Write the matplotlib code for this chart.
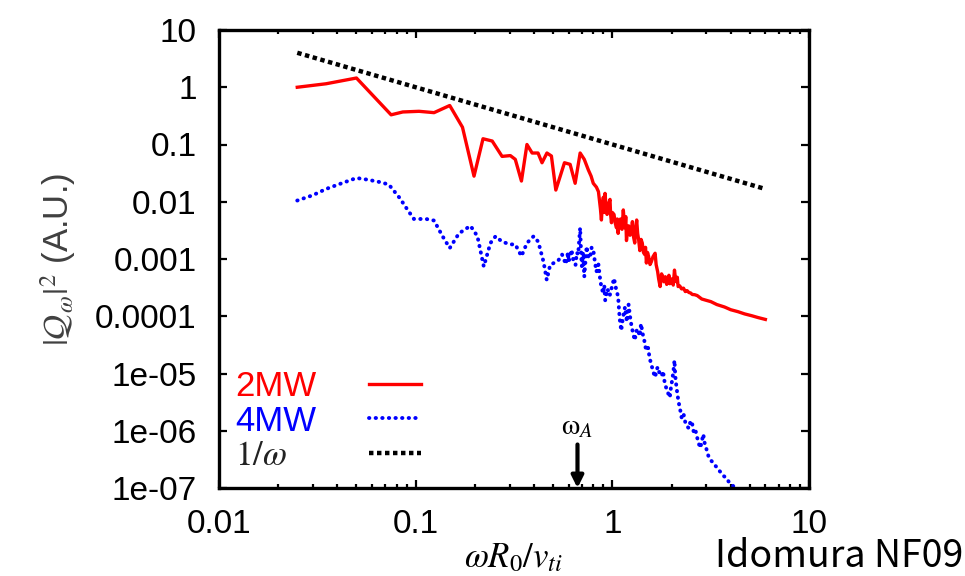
import numpy as np
import matplotlib
matplotlib.use('Agg')
import matplotlib.pyplot as plt
from matplotlib.ticker import LogLocator, NullFormatter

plt.rcParams['font.family'] = ['Liberation Sans', 'DejaVu Sans']
plt.rcParams['mathtext.fontset'] = 'stix'

# 2MW spectrum
x_2mw = [0.025, 0.035, 0.05, 0.075, 0.086, 0.104, 0.124, 0.149, 0.173, 0.198,
         0.220, 0.245, 0.275, 0.303, 0.321, 0.345, 0.368, 0.391, 0.419, 0.439,
         0.465, 0.49, 0.516, 0.571, 0.61, 0.647, 0.686, 0.72, 0.755, 0.78,
         0.80, 0.83, 0.85, 0.87, 0.88, 0.89, 0.90, 0.91, 0.918, 0.93,
         0.94, 0.955, 0.973, 0.98, 0.99, 1.00, 1.02, 1.035, 1.05, 1.06,
         1.07, 1.085, 1.10, 1.12, 1.137, 1.15, 1.16, 1.17, 1.18, 1.195,
         1.21, 1.23, 1.25, 1.265, 1.28, 1.30, 1.315, 1.33, 1.345, 1.36,
         1.38, 1.40, 1.42, 1.44, 1.46, 1.475, 1.49, 1.51, 1.53, 1.555,
         1.58, 1.61, 1.65, 1.67, 1.70, 1.72, 1.75, 1.78, 1.80, 1.83,
         1.86, 1.89, 1.91, 1.94, 1.96, 1.99, 2.01, 2.04, 2.07, 2.10,
         2.12, 2.14, 2.16, 2.2, 2.25, 2.3, 2.35, 2.4, 2.45, 2.5,
         2.55, 2.62, 2.7, 2.85, 3.0, 3.17, 3.4, 3.72, 4.0, 4.36,
         4.7, 5.12, 5.5, 6.0]
y_2mw = [1.0, 1.15, 1.45, 0.33, 0.37, 0.38, 0.36, 0.48, 0.2, 0.028,
         0.126, 0.115, 0.062, 0.064, 0.055, 0.023, 0.10, 0.071, 0.071, 0.048,
         0.071, 0.063, 0.016, 0.048, 0.045, 0.021, 0.071, 0.055, 0.036, 0.028,
         0.021, 0.018, 0.015, 0.0075, 0.0048, 0.009, 0.012, 0.0065, 0.014, 0.008,
         0.006, 0.009, 0.011, 0.006, 0.0043, 0.0065, 0.006, 0.0042, 0.0035, 0.005,
         0.0028, 0.0045, 0.005, 0.0033, 0.0072, 0.0045, 0.0035, 0.0055, 0.0021, 0.0032,
         0.0038, 0.0026, 0.0032, 0.0045, 0.0025, 0.0019, 0.0034, 0.0048, 0.0028, 0.0022,
         0.0014, 0.0022, 0.0019, 0.0013, 0.0012, 0.0016, 0.00085, 0.0013, 0.0011, 0.0008,
         0.0009, 0.0011, 0.00126, 0.0008, 0.0006, 0.00045, 0.00033, 0.00055, 0.0005, 0.0004,
         0.00049, 0.00036, 0.0004, 0.00052, 0.00037, 0.00043, 0.00045, 0.00035, 0.00064, 0.00042,
         0.0004, 0.00048, 0.00033, 0.00034, 0.0003, 0.00031, 0.00027, 0.00028, 0.00026, 0.000255,
         0.00024, 0.000238, 0.00023, 0.0002, 0.00019, 0.00018, 0.00016, 0.000145, 0.00013, 0.00012,
         0.00011, 0.000102, 0.000095, 0.000088]

# 4MW spectrum
x_4mw = [0.025, 0.030, 0.035, 0.042, 0.050, 0.057, 0.066, 0.073, 0.083, 0.091,
         0.098, 0.113, 0.124, 0.137, 0.149, 0.166, 0.19, 0.206, 0.222, 0.24,
         0.255, 0.275, 0.303, 0.321, 0.345, 0.368, 0.398, 0.42, 0.447, 0.464,
         0.483, 0.53, 0.555, 0.58, 0.595, 0.60, 0.62, 0.635, 0.65, 0.66,
         0.67, 0.686, 0.695, 0.70, 0.71, 0.72, 0.73, 0.74, 0.755, 0.77,
         0.785, 0.80, 0.815, 0.83, 0.85, 0.87, 0.885, 0.90, 0.91, 0.92,
         0.945, 0.97, 1.0, 1.02, 1.045, 1.07, 1.09, 1.11, 1.13, 1.16,
         1.185, 1.21, 1.23, 1.25, 1.275, 1.30, 1.325, 1.35, 1.375, 1.40,
         1.425, 1.45, 1.47, 1.49, 1.52, 1.55, 1.575, 1.60, 1.625, 1.65,
         1.675, 1.70, 1.74, 1.78, 1.81, 1.85, 1.9, 1.96, 1.99, 2.02,
         2.05, 2.07, 2.09, 2.12, 2.15, 2.18, 2.22, 2.25, 2.3, 2.35,
         2.4, 2.45, 2.5, 2.55, 2.6, 2.65, 2.7, 2.75, 2.8, 2.85,
         2.9, 2.95, 3.0, 3.05, 3.1, 3.18, 3.25, 3.32, 3.4, 3.5,
         3.6, 3.7, 3.8, 3.9, 4.0, 4.15, 4.3]
y_4mw = [0.0105, 0.013, 0.0167, 0.021, 0.026, 0.0243, 0.022, 0.02, 0.0116, 0.0072,
         0.005, 0.005, 0.0047, 0.0025, 0.00155, 0.0028, 0.0038, 0.0025, 0.00074, 0.0019,
         0.0025, 0.002, 0.0018, 0.0018, 0.00112, 0.0019, 0.0025, 0.002, 0.00089, 0.00043,
         0.00079, 0.00093, 0.0012, 0.00081, 0.0013, 0.0009, 0.00145, 0.0009, 0.00079, 0.0013,
         0.0012, 0.0035, 0.0011, 0.00074, 0.0013, 0.00049, 0.0009, 0.00166, 0.0011, 0.00103,
         0.0016, 0.00145, 0.0009, 0.0006, 0.0008, 0.0004, 0.0003, 0.00025, 0.00035, 0.00019,
         0.0003, 0.00023, 0.00035, 0.00046, 0.0003, 0.00022, 9e-5, 5.6e-5, 9e-5, 1.45e-4,
         8e-5, 1.6e-4, 1e-4, 7e-5, 5e-5, 3.8e-5, 5.5e-5, 6e-5, 4.5e-5, 7.4e-5,
         5e-5, 4e-5, 3e-5, 2.5e-5, 2.8e-5, 1.8e-5, 1.5e-5, 1.2e-5, 1e-5, 8.6e-6,
         1.1e-5, 1.3e-5, 1e-5, 9e-6, 1.1e-5, 6.6e-6, 5e-6, 3.8e-6, 6e-6, 8e-6,
         1.2e-5, 1.7e-5, 9e-6, 5.7e-6, 4e-6, 3e-6, 2.2e-6, 1.7e-6, 2e-6, 1.4e-6,
         1.2e-6, 1.1e-6, 1.5e-6, 1.3e-6, 9e-7, 1e-6, 7.6e-7, 6e-7, 5e-7, 6.5e-7,
         8.7e-7, 6e-7, 5e-7, 4e-7, 3.4e-7, 3e-7, 2.8e-7, 2.5e-7, 2.3e-7, 2e-7,
         1.8e-7, 1.6e-7, 1.5e-7, 1.3e-7, 1.2e-7, 1.05e-7, 9e-8]

# 1/omega reference line
x_ref = [0.025, 6.0]
y_ref = [4.0, 0.0167]

x_ticks = [0.01, 0.1, 1, 10]
x_labels = ['0.01', '0.1', '1', '10']
y_ticks = [1e-7, 1e-6, 1e-5, 1e-4, 1e-3, 1e-2, 1e-1, 1, 10]
y_labels = ['1e-07', '1e-06', '1e-05', '0.0001', '0.001', '0.01', '0.1', '1', '10']

omega_a = 0.665

fig = plt.figure(figsize=(9.65, 5.76), dpi=100)
ax = fig.add_axes([219 / 965, 1 - 488 / 576, 590 / 965, 458 / 576])

ax.plot(x_2mw, y_2mw, color='#ff0000', lw=2.4, label='2MW')
ax.plot(x_4mw, y_4mw, color='#0000ff', lw=2.8, linestyle=(0, (0.1, 1.6)),
        dash_capstyle='round', label='4MW')
ax.plot(x_ref, y_ref, color='black', lw=3.2, linestyle=(0, (1, 0.8)),
        label=r'$1/\omega$' + '    ')

ax.set_xscale('log')
ax.set_yscale('log')
ax.set_xlim(0.01, 10)
ax.set_ylim(1e-7, 10)
ax.set_xticks(x_ticks, x_labels)
ax.set_yticks(y_ticks, y_labels)
ax.xaxis.set_minor_locator(LogLocator(base=10, subs=np.arange(2, 10)))
ax.yaxis.set_minor_locator(LogLocator(base=10, subs=np.arange(2, 10)))
ax.xaxis.set_minor_formatter(NullFormatter())
ax.yaxis.set_minor_formatter(NullFormatter())
ax.tick_params(which='both', direction='in', top=True, right=True, width=1.6)
ax.tick_params(which='major', length=6, labelsize=24, colors='black')
ax.tick_params(which='minor', length=3)
ax.tick_params(axis='x', which='major', pad=15)
ax.tick_params(axis='y', which='major', pad=16)
for s in ax.spines.values():
    s.set_linewidth(2.4)

ax.set_xlabel(r'$\omega R_0/v_{ti}$', fontsize=25, labelpad=1)
ax.set_ylabel(r'$|\mathcal{Q}_\omega|^2$ (A.U.)', fontsize=25, color='#404040', labelpad=12)

leg = ax.legend(loc='lower left', bbox_to_anchor=(0.0, 0.0), markerfirst=False,
                frameon=False, fontsize=25, handlelength=1.5, handletextpad=1.5,
                labelspacing=0.05, borderpad=0.3, borderaxespad=0.15)
for t, c in zip(leg.get_texts(), ['#ff0000', '#0000ff', '#222222']):
    t.set_color(c)

ax.annotate('', xy=(omega_a, 0.0), xytext=(omega_a, 0.095),
            xycoords=('data', 'axes fraction'),
            arrowprops=dict(arrowstyle='-|>,head_width=0.35,head_length=0.7',
                            lw=3, color='black', shrinkA=0, shrinkB=0))
ax.text(omega_a, 0.105, r'$\mathrm{\omega}_A$', transform=ax.get_xaxis_transform(),
        ha='center', va='bottom', fontsize=21)

fig.text(0.998, 0.0, 'Idomura NF09', ha='right', va='bottom', fontsize=27,
         family=['Noto Sans CJK KR', 'DejaVu Sans'])

fig.savefig('out.png', dpi=100)
